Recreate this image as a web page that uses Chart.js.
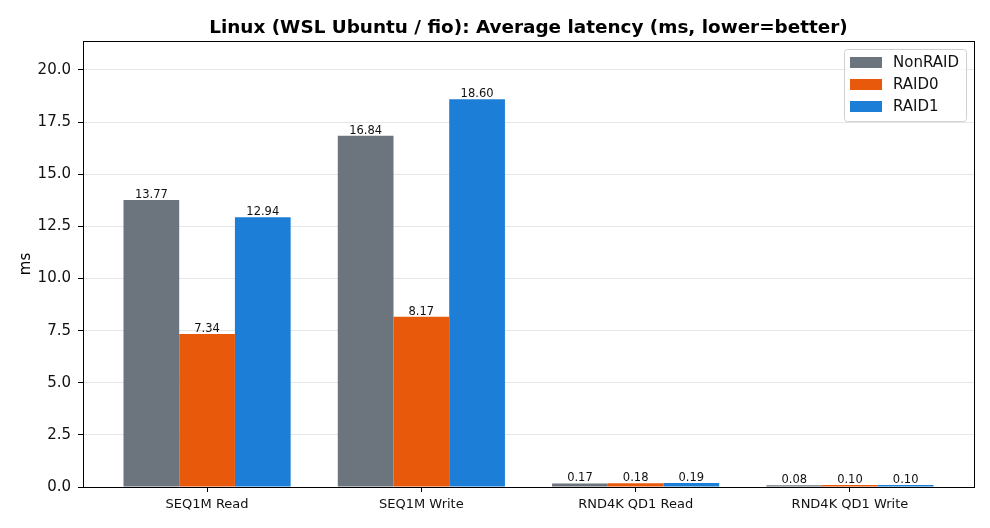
<!DOCTYPE html>
<html>
<head>
<meta charset="utf-8">
<script src="https://cdn.jsdelivr.net/npm/chart.js@4.4.1/dist/chart.umd.min.js"></script>
<style>
  html, body { margin: 0; padding: 0; background: #fff; }
  #wrap { width: 990px; height: 528px; }
</style>
</head>
<body>
<div id="wrap"><canvas id="grafico"></canvas></div>
<script>
// Dados
const categorias = ['SEQ1M Read', 'SEQ1M Write', 'RND4K QD1 Read', 'RND4K QD1 Write'];
const nonRaid = [13.77, 16.84, 0.17, 0.08];
const raid0 = [7.34, 8.17, 0.18, 0.10];
const raid1 = [12.94, 18.60, 0.19, 0.10];
const yTicks = [0, 2.5, 5, 7.5, 10, 12.5, 15, 17.5, 20];

const cores = ['#6c757d', '#e8590c', '#1c7ed6'];
const series = [
    { nome: 'NonRAID', valores: nonRaid },
    { nome: 'RAID0', valores: raid0 },
    { nome: 'RAID1', valores: raid1 }
];

const fonte = 'DejaVu Sans, sans-serif';

// Rótulos, moldura, título e legenda
const extras = {
    id: 'extras',
    afterDatasetsDraw(chart) {
        const ctx = chart.ctx;
        ctx.save();
        ctx.fillStyle = '#111';
        ctx.font = '11.5px ' + fonte;
        ctx.textAlign = 'center';
        ctx.textBaseline = 'alphabetic';
        chart.data.datasets.forEach((ds, i) => {
            chart.getDatasetMeta(i).data.forEach((bar, j) => {
                ctx.fillText(ds.data[j].y.toFixed(2), bar.x, bar.y - 2);
            });
        });
        ctx.restore();
    },
    afterDraw(chart) {
        const ctx = chart.ctx;
        const a = chart.chartArea;
        ctx.save();
        // moldura
        ctx.strokeStyle = '#000';
        ctx.lineWidth = 1;
        ctx.strokeRect(Math.round(a.left) + 0.5, Math.round(a.top) + 0.5,
            Math.round(a.right - a.left), Math.round(a.bottom - a.top));

        // título
        ctx.fillStyle = '#000';
        ctx.font = 'bold 18.4px ' + fonte;
        ctx.textAlign = 'center';
        ctx.textBaseline = 'alphabetic';
        ctx.fillText('Linux (WSL Ubuntu / fio): Average latency (ms, lower=better)',
            (a.left + a.right) / 2, 33);

        // título do eixo y
        ctx.font = '15px ' + fonte;
        ctx.translate(30, (a.top + a.bottom) / 2);
        ctx.rotate(-Math.PI / 2);
        ctx.fillText('ms', 0, 0);
        ctx.restore();

        // legenda
        ctx.save();
        const lx = a.right - 130, ly = a.top + 8, lw = 122, lh = 72;
        ctx.fillStyle = 'rgba(255,255,255,0.8)';
        ctx.strokeStyle = '#d0d0d0';
        ctx.lineWidth = 1;
        ctx.beginPath();
        ctx.roundRect(lx + 0.5, ly + 0.5, lw, lh, 3);
        ctx.fill();
        ctx.stroke();
        ctx.font = '15px ' + fonte;
        ctx.textAlign = 'left';
        ctx.textBaseline = 'middle';
        series.forEach((s, i) => {
            const y = ly + 13 + i * 22;
            ctx.fillStyle = cores[i];
            ctx.fillRect(lx + 6, y - 5, 32, 11);
            ctx.fillStyle = '#111';
            ctx.fillText(s.nome, lx + 49, y + 1);
        });
        ctx.restore();
    }
};

const ctx = document.getElementById('grafico').getContext('2d');
const grafico = new Chart(ctx, {
    type: 'bar',
    data: {
        datasets: series.map((s, i) => ({
            label: s.nome,
            data: s.valores.map((v, j) => ({ x: j, y: v })),
            backgroundColor: cores[i],
            borderColor: cores[i],
            borderWidth: 0,
            categoryPercentage: 0.78,
            barPercentage: 1
        }))
    },
    options: {
        responsive: true,
        maintainAspectRatio: false,
        animation: false,
        layout: { padding: { top: 41, right: 16, bottom: 0, left: 0 } },
        plugins: {
            legend: { display: false },
            title: { display: false },
            tooltip: { enabled: false }
        },
        scales: {
            x: {
                type: 'linear',
                min: -0.579,
                max: 3.579,
                offset: false,
                afterBuildTicks: (scale) => {
                    scale.ticks = categorias.map((_, i) => ({ value: i }));
                },
                afterFit: (scale) => { scale.height = 41; },
                ticks: {
                    autoSkip: false,
                    maxRotation: 0,
                    padding: 5,
                    color: '#111',
                    font: { family: fonte, size: 13 },
                    callback: (v) => categorias[v]
                },
                grid: {
                    offset: false,
                    drawOnChartArea: false,
                    drawTicks: true,
                    tickLength: 5,
                    tickColor: '#000'
                },
                border: { display: true, color: '#000', width: 1 }
            },
            y: {
                min: 0,
                max: 21.39,
                afterBuildTicks: (scale) => {
                    scale.ticks = yTicks.map(v => ({ value: v }));
                },
                afterFit: (scale) => { scale.width = 83; },
                ticks: {
                    padding: 7,
                    color: '#111',
                    font: { family: fonte, size: 15 },
                    callback: (v) => Number(v).toFixed(1)
                },
                grid: {
                    color: '#e6e6e6',
                    lineWidth: 1,
                    tickLength: 5,
                    tickColor: '#000'
                },
                border: { display: true, color: '#000', width: 1 }
            }
        }
    },
    plugins: [extras]
});
</script>
</body>
</html>
